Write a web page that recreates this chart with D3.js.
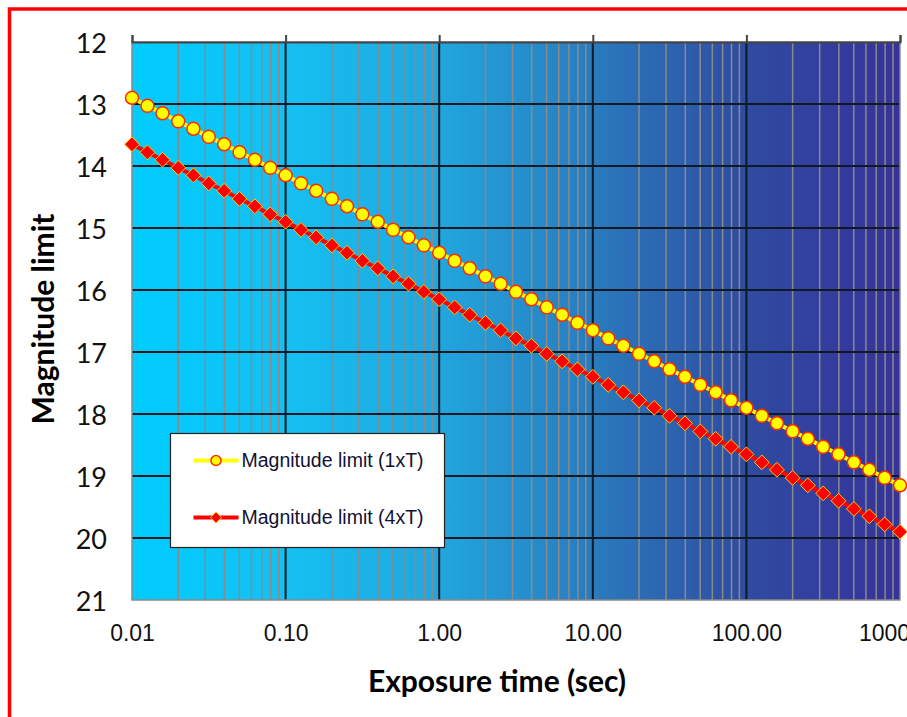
<!DOCTYPE html>
<html>
<head>
<meta charset="utf-8">
<script src="https://cdn.jsdelivr.net/npm/d3@7"></script>
<style>
  html, body { margin: 0; padding: 0; background: #fff; overflow: hidden; }
</style>
</head>
<body>
<div id="chart"></div>
<script>
// exposure times (sec), 10 points per decade
const exposureTimes = [
  0.01, 0.0126, 0.0158, 0.02, 0.0251, 0.0316, 0.0398, 0.0501, 0.0631, 0.0794,
  0.1, 0.126, 0.158, 0.2, 0.251, 0.316, 0.398, 0.501, 0.631, 0.794,
  1, 1.26, 1.58, 2, 2.51, 3.16, 3.98, 5.01, 6.31, 7.94,
  10, 12.6, 15.8, 20, 25.1, 31.6, 39.8, 50.1, 63.1, 79.4,
  100, 126, 158, 200, 251, 316, 398, 501, 631, 794, 1000
];
const magLimit1xT = [
  12.90, 13.03, 13.15, 13.28, 13.40, 13.53, 13.65, 13.78, 13.90, 14.03,
  14.15, 14.28, 14.40, 14.53, 14.65, 14.78, 14.90, 15.03, 15.15, 15.28,
  15.40, 15.53, 15.65, 15.78, 15.90, 16.03, 16.15, 16.28, 16.40, 16.53,
  16.65, 16.78, 16.90, 17.03, 17.15, 17.28, 17.40, 17.53, 17.65, 17.78,
  17.90, 18.03, 18.15, 18.28, 18.40, 18.53, 18.65, 18.78, 18.90, 19.03, 19.15
];
const magLimit4xT = [
  13.65, 13.78, 13.90, 14.03, 14.15, 14.28, 14.40, 14.53, 14.65, 14.78,
  14.90, 15.03, 15.15, 15.28, 15.40, 15.53, 15.65, 15.78, 15.90, 16.03,
  16.15, 16.28, 16.40, 16.53, 16.65, 16.78, 16.90, 17.03, 17.15, 17.28,
  17.40, 17.53, 17.65, 17.78, 17.90, 18.03, 18.15, 18.28, 18.40, 18.53,
  18.65, 18.78, 18.90, 19.03, 19.15, 19.28, 19.40, 19.53, 19.65, 19.78, 19.90
];
const xTicks = [0.01, 0.1, 1, 10, 100, 1000];
const yTicks = [12, 13, 14, 15, 16, 17, 18, 19, 20, 21];
const seriesNames = ["Magnitude limit (1xT)", "Magnitude limit (4xT)"];

const width = 907, height = 717;
const margin = {top: 42, right: 7, bottom: 117, left: 132};
const plotW = width - margin.left - margin.right;
const plotH = height - margin.top - margin.bottom;

const svg = d3.select("#chart").append("svg")
  .attr("width", width)
  .attr("height", height);

// red frame round the whole chart (runs off the right and bottom)
svg.append("rect")
  .attr("x", 9.5).attr("y", 9)
  .attr("width", 1000).attr("height", 1000)
  .attr("fill", "none")
  .attr("stroke", "#ff0000")
  .attr("stroke-width", 3.5);

const defs = svg.append("defs");
const grad = defs.append("linearGradient")
  .attr("id", "bg").attr("x1", "0%").attr("x2", "100%").attr("y1", "0%").attr("y2", "0%");
[["0%", "#00ccff"], ["20%", "#15c0f2"], ["40%", "#21a6de"], ["60%", "#2a7bbe"], ["80%", "#2f4ba1"], ["100%", "#37329b"]]
  .forEach(s => grad.append("stop").attr("offset", s[0]).attr("stop-color", s[1]));

const g = svg.append("g")
  .attr("transform", "translate(" + margin.left + "," + margin.top + ")");

const x = d3.scaleLog().domain([0.01, 1000]).range([0, plotW]);
const y = d3.scaleLinear().domain([12, 21]).range([0, plotH]);

g.append("rect")
  .attr("width", plotW).attr("height", plotH)
  .attr("fill", "url(#bg)");

// minor vertical gridlines (2..9 in each decade)
const minorTicks = x.ticks().filter(t => !xTicks.some(m => Math.abs(m - t) / m < 1e-6));
g.append("g").selectAll("line")
  .data(minorTicks)
  .join("line")
  .attr("x1", d => x(d)).attr("x2", d => x(d))
  .attr("y1", 0).attr("y2", plotH)
  .attr("stroke", "#8a8a8a")
  .attr("stroke-width", 1.5);

// major vertical gridlines
g.append("g").selectAll("line")
  .data(xTicks.slice(1, -1))
  .join("line")
  .attr("x1", d => x(d)).attr("x2", d => x(d))
  .attr("y1", 0).attr("y2", plotH)
  .attr("stroke", "#111a22")
  .attr("stroke-width", 2);

// horizontal gridlines
g.append("g").selectAll("line")
  .data(yTicks.slice(1, -1))
  .join("line")
  .attr("x1", 0).attr("x2", plotW)
  .attr("y1", d => y(d)).attr("y2", d => y(d))
  .attr("stroke", "#111a22")
  .attr("stroke-width", 2);

// plot border
g.append("rect")
  .attr("width", plotW).attr("height", plotH)
  .attr("fill", "none")
  .attr("stroke", "#8a8a8a")
  .attr("stroke-width", 1.5);

// top axis with small ticks
const topAxis = g.append("g")
  .call(d3.axisTop(x).tickValues(xTicks).tickSize(7).tickFormat(""));
topAxis.select(".domain").attr("stroke", "#444").attr("stroke-width", 2);
topAxis.selectAll(".tick line").attr("stroke", "#444").attr("stroke-width", 2);

// bottom labels (the last one runs off the page, as in the original)
const bottomAxis = g.append("g")
  .attr("transform", "translate(0," + plotH + ")")
  .call(d3.axisBottom(x).tickValues(xTicks).tickSize(0).tickPadding(25).tickFormat(d3.format(".2f")));
bottomAxis.select(".domain").remove();
bottomAxis.selectAll("text")
  .attr("fill", "#111")
  .style("font-family", "'Liberation Sans', Arial, sans-serif")
  .style("font-size", "23px");

// left labels
const leftAxis = g.append("g")
  .call(d3.axisLeft(y).tickValues(yTicks).tickSize(0).tickPadding(25).tickFormat(d3.format("d")));
leftAxis.select(".domain").remove();
leftAxis.selectAll("text")
  .attr("fill", "#111")
  .attr("dy", "0.4em")
  .style("font-family", "Lato, 'Open Sans', sans-serif")
  .style("font-size", "27px");

// axis titles
svg.append("text")
  .attr("x", 497).attr("y", 692)
  .attr("text-anchor", "middle")
  .style("font-family", "Lato, 'Open Sans', sans-serif")
  .style("font-weight", "bold")
  .style("font-size", "30px")
  .attr("fill", "#000")
  .text("Exposure time (sec)");

svg.append("text")
  .attr("transform", "translate(54,319) rotate(-90)")
  .attr("text-anchor", "middle")
  .style("font-family", "Lato, 'Open Sans', sans-serif")
  .style("font-weight", "bold")
  .style("font-size", "30px")
  .attr("fill", "#000")
  .text("Magnitude limit");

// series
const line = d3.line()
  .x(d => x(d[0]))
  .y(d => y(d[1]));

const data1 = exposureTimes.map((t, i) => [t, magLimit1xT[i]]);
const data4 = exposureTimes.map((t, i) => [t, magLimit4xT[i]]);

const diamond = d3.symbol().type(d3.symbolDiamond2).size(140);

function drawCircleSeries(sel, data) {
  sel.append("path").datum(data)
    .attr("d", line)
    .attr("fill", "none")
    .attr("stroke", "#ffff00")
    .attr("stroke-width", 4);
  sel.append("g").selectAll("circle")
    .data(data)
    .join("circle")
    .attr("cx", d => x(d[0])).attr("cy", d => y(d[1]))
    .attr("r", 6.5)
    .attr("fill", "#ffff00")
    .attr("stroke", "#ff2a00")
    .attr("stroke-width", 1.5);
}

function drawDiamondSeries(sel, data) {
  sel.append("path").datum(data)
    .attr("d", line)
    .attr("fill", "none")
    .attr("stroke", "#ff0000")
    .attr("stroke-width", 4);
  sel.append("g").selectAll("path")
    .data(data)
    .join("path")
    .attr("transform", d => "translate(" + x(d[0]) + "," + y(d[1]) + ")")
    .attr("d", diamond)
    .attr("fill", "#ff0000")
    .attr("stroke", "#ffcc00")
    .attr("stroke-width", 1);
}

drawDiamondSeries(g.append("g"), data4);
drawCircleSeries(g.append("g"), data1);

// legend
const legend = svg.append("g").attr("transform", "translate(170.5,433.5)");
legend.append("rect")
  .attr("width", 274).attr("height", 114)
  .attr("fill", "#fff")
  .attr("stroke", "#222")
  .attr("stroke-width", 1.2);

const legRows = [27, 84];
legend.append("line")
  .attr("x1", 23).attr("x2", 68).attr("y1", legRows[0]).attr("y2", legRows[0])
  .attr("stroke", "#ffff00").attr("stroke-width", 4);
legend.append("circle")
  .attr("cx", 45.5).attr("cy", legRows[0]).attr("r", 5)
  .attr("fill", "#ffff00").attr("stroke", "#ff2a00").attr("stroke-width", 1.5);
legend.append("line")
  .attr("x1", 23).attr("x2", 68).attr("y1", legRows[1]).attr("y2", legRows[1])
  .attr("stroke", "#ff0000").attr("stroke-width", 4);
legend.append("path")
  .attr("transform", "translate(45.5," + legRows[1] + ")")
  .attr("d", d3.symbol().type(d3.symbolDiamond2).size(80))
  .attr("fill", "#ff0000").attr("stroke", "#ffcc00").attr("stroke-width", 1);

legend.selectAll("text.lab")
  .data(seriesNames)
  .join("text")
  .attr("class", "lab")
  .attr("x", 71)
  .attr("y", (d, i) => legRows[i])
  .attr("dy", "0.35em")
  .attr("fill", "#111133")
  .style("font-family", "'Liberation Sans', Arial, sans-serif")
  .style("font-size", "19.5px")
  .text(d => d);
</script>
</body>
</html>
